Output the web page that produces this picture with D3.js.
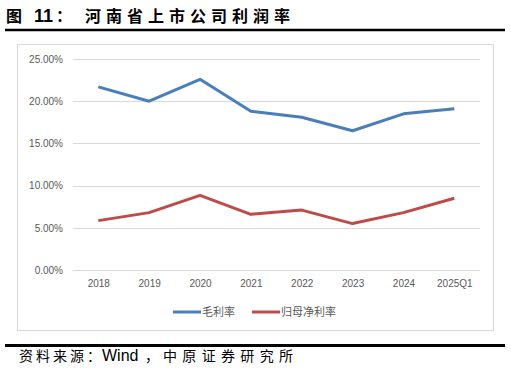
<!DOCTYPE html>
<html><head><meta charset="utf-8">
<script src="https://cdn.jsdelivr.net/npm/d3@7"></script>
<style>body{margin:0;background:#fff}svg{display:block}</style>
</head><body>
<svg id="c" width="511" height="378"></svg>
<script>
const categories = ["2018","2019","2020","2021","2022","2023","2024","2025Q1"];
const grossMargin = [21.7, 20.0, 22.6, 18.8, 18.1, 16.5, 18.5, 19.1];
const netMargin = [5.85, 6.8, 8.85, 6.6, 7.1, 5.5, 6.8, 8.5];
const yTicks = [0, 5, 10, 15, 20, 25];
const seriesNames = ["毛利率", "归母净利率"];
const colors = ["#4a7ebb", "#be4b48"];

const svg = d3.select("#c");
const font = "'Liberation Sans', Arial, 'Noto Sans CJK SC', sans-serif";
const cjk = "'Noto Sans CJK SC', sans-serif";

// title
const title = svg.append("text").attr("y", 22).attr("font-weight", "bold").attr("fill", "#000");
title.append("tspan").attr("x", 6).attr("font-family", cjk).attr("font-size", 16).text("图");
title.append("tspan").attr("x", 34).attr("font-family", font).attr("font-size", 18).text("11");
title.append("tspan").attr("x", 56).attr("font-family", cjk).attr("font-size", 16).text("：");
title.append("tspan").attr("x", 85).attr("font-family", cjk).attr("font-size", 16)
  .attr("textLength", 205).attr("lengthAdjust", "spacing").text("河南省上市公司利润率");
svg.append("line").attr("x1", 5).attr("x2", 505).attr("y1", 30).attr("y2", 30)
  .attr("stroke", "#000").attr("stroke-width", 2.5);

// chart box
svg.append("rect").attr("x", 17.5).attr("y", 44.5).attr("width", 476).attr("height", 286)
  .attr("fill", "#fff").attr("stroke", "#d9d9d9").attr("stroke-width", 1);

const x = d3.scalePoint().domain(categories).range([98.3, 454.3]);
const y = d3.scaleLinear().domain([0, 25]).range([270, 59]);
const gridLeft = 73, gridRight = 480;

// grid
svg.append("g").selectAll("line").data(yTicks).join("line")
  .attr("x1", gridLeft).attr("x2", gridRight)
  .attr("y1", d => Math.round(y(d)) + 0.5).attr("y2", d => Math.round(y(d)) + 0.5)
  .attr("stroke", "#d9d9d9").attr("stroke-width", 1);

// y axis
const yAxis = d3.axisLeft(y).tickValues(yTicks).tickSize(0).tickPadding(0)
  .tickFormat(d => d.toFixed(2) + "%");
const gy = svg.append("g").attr("transform", "translate(63,0)").call(yAxis);
gy.select(".domain").remove();
gy.selectAll("text").attr("font-family", font).attr("font-size", 10).attr("fill", "#595959");

// x axis
const xAxis = d3.axisBottom(x).tickSize(0).tickPadding(0);
const gx = svg.append("g").attr("transform", "translate(0,280)").call(xAxis);
gx.select(".domain").remove();
gx.selectAll("text").attr("font-family", font).attr("font-size", 10).attr("fill", "#595959");

// lines
const line = d3.line().x((d, i) => x(categories[i])).y(d => y(d));
[grossMargin, netMargin].forEach((s, i) => {
  svg.append("path").datum(s).attr("d", line).attr("fill", "none")
    .attr("stroke", colors[i]).attr("stroke-width", 3).attr("stroke-linejoin", "round");
});

// legend
const legendX = [173, 252];
seriesNames.forEach((n, i) => {
  svg.append("line").attr("x1", legendX[i]).attr("x2", legendX[i] + 28)
    .attr("y1", 312).attr("y2", 312).attr("stroke", colors[i]).attr("stroke-width", 3);
  svg.append("text").attr("x", legendX[i] + 29).attr("y", 316)
    .attr("font-family", cjk).attr("font-size", 11).attr("fill", "#595959")
    .text(n);
});

// bottom rule + source
svg.append("line").attr("x1", 5).attr("x2", 505).attr("y1", 345.5).attr("y2", 345.5)
  .attr("stroke", "#000").attr("stroke-width", 3);
const src = svg.append("text").attr("y", 361).attr("fill", "#000");
src.append("tspan").attr("x", 19).attr("font-family", cjk).attr("font-size", 14)
  .attr("textLength", 82).attr("lengthAdjust", "spacing").text("资料来源：");
src.append("tspan").attr("x", 102).attr("font-family", font).attr("font-size", 16).text("Wind");
src.append("tspan").attr("x", 145).attr("font-family", cjk).attr("font-size", 14).text("，");
src.append("tspan").attr("x", 163).attr("font-family", cjk).attr("font-size", 14)
  .attr("textLength", 130).attr("lengthAdjust", "spacing").text("中原证券研究所");
</script>
</body></html>
